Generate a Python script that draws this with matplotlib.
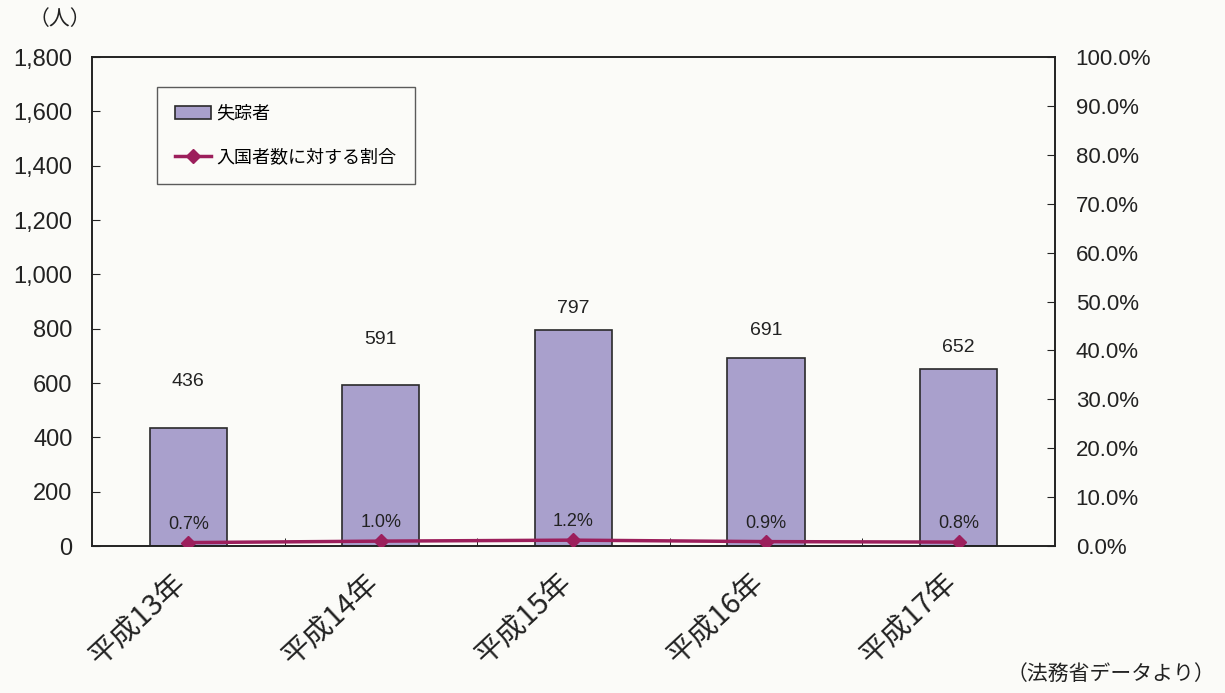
import matplotlib.pyplot as plt
from matplotlib.ticker import FuncFormatter, FixedLocator
from matplotlib.transforms import ScaledTranslation
import numpy as np

plt.rcParams['font.family'] = ['Liberation Sans', 'Noto Sans CJK JP', 'DejaVu Sans']

years = ['平成13年', '平成14年', '平成15年', '平成16年', '平成17年']
missing = [436, 591, 797, 691, 652]
ratio = [0.7, 1.0, 1.2, 0.9, 0.8]
label_gap = [27, 27, 9, 14, 9]  # gap between bar top and count label, in points

bar_color = '#a9a0cc'
line_color = '#9c1f5c'
ink = '#222222'

fig = plt.figure(figsize=(12.25, 6.93), dpi=100)
fig.patch.set_facecolor('#fbfbf8')
ax = fig.add_axes([0.0751, 0.2121, 0.786, 0.7056])
ax.set_facecolor('#fbfbf8')

x = np.arange(len(years))
bars = ax.bar(x, missing, width=0.4, color=bar_color, edgecolor='#2a2a2a',
              linewidth=1.2, label='失踪者', zorder=2)
ax.set_xlim(-0.5, len(years) - 0.5)
ax.set_ylim(0, 1800)
ax.set_yticks(range(0, 1801, 200))
ax.yaxis.set_major_formatter(FuncFormatter(lambda v, p: f'{int(v):,}'))
ax.tick_params(axis='y', direction='in', length=6, labelsize=17, pad=14, colors=ink)
ax.set_xticks(x)
ax.set_xticklabels(years, rotation=43, ha='right', rotation_mode='anchor',
                   fontsize=21, family=['Noto Sans CJK JP'])
ax.tick_params(axis='x', length=0, pad=16, colors=ink)
shift = ScaledTranslation(-16 / 100, 0, fig.dpi_scale_trans)
for lbl in ax.get_xticklabels():
    lbl.set_transform(lbl.get_transform() + shift)
ax.xaxis.set_minor_locator(FixedLocator(x[:-1] + 0.5))
ax.tick_params(axis='x', which='minor', direction='in', length=6)
for s in ax.spines.values():
    s.set_color('#222222')
    s.set_linewidth(1.2)

for b, v, g in zip(bars, missing, label_gap):
    ax.annotate(str(v), (b.get_x() + b.get_width() / 2, v), xytext=(0, g),
                textcoords='offset points', ha='center', va='bottom',
                fontsize=14, color=ink)

ax2 = ax.twinx()
ax2.plot(x, ratio, color=line_color, lw=2.5, marker='D', markersize=7,
         label='入国者数に対する割合', zorder=3)
ax2.set_ylim(0, 100)
ax2.set_yticks(range(0, 101, 10))
ax2.yaxis.set_major_formatter(FuncFormatter(lambda v, p: f'{v:.1f}%'))
ax2.tick_params(axis='y', direction='in', length=6, labelsize=16, pad=15, colors=ink)
for s in ax2.spines.values():
    s.set_color('#222222')
    s.set_linewidth(1.2)

for xi, r in zip(x, ratio):
    ax2.annotate(f'{r:.1f}%', (xi, r), xytext=(0, 7), textcoords='offset points',
                 ha='center', va='bottom', fontsize=13, color=ink)

handles = [bars, ax2.lines[0]]
leg = ax.legend(handles, [h.get_label() for h in handles], loc='upper left',
                bbox_to_anchor=(0.058, 0.958), frameon=True, fancybox=False,
                labelspacing=1.4, borderpad=1.0, handlelength=2.0, handletextpad=0.3,
                prop={'family': ['Noto Sans CJK JP'], 'size': 13})
leg.get_frame().set_edgecolor('#333333')
leg.get_frame().set_linewidth(1.0)
leg.get_frame().set_facecolor('#fbfbf8')

fig.text(0.023, 0.972, '（人）', fontsize=15, family=['Noto Sans CJK JP'],
         ha='left', va='center', color=ink)
fig.text(0.992, 0.028, '（法務省データより）', fontsize=15, family=['Noto Sans CJK JP'],
         ha='right', va='center', color=ink)

fig.savefig('out.png', dpi=100, facecolor=fig.get_facecolor())
